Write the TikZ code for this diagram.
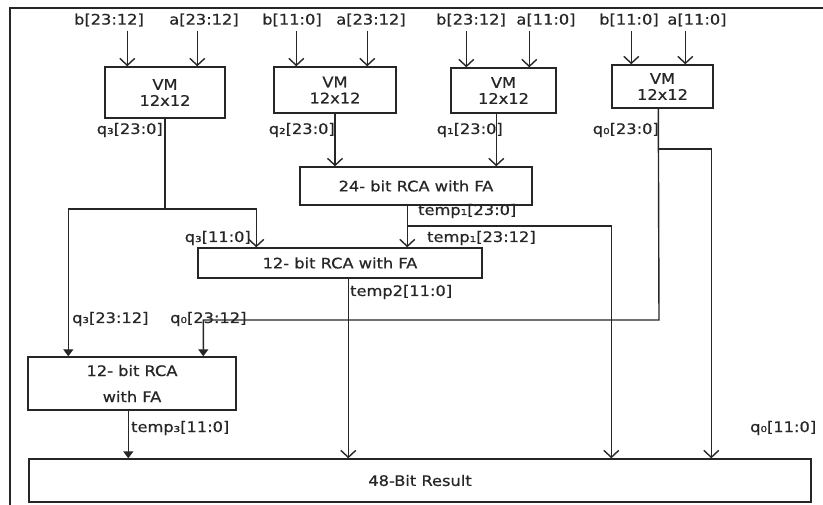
\documentclass[tikz,border=0pt]{standalone}
\usepackage{fontspec}
\setmainfont{DejaVu Sans}[FakeStretch=1.12, FakeBold=0.6]
\usetikzlibrary{arrows.meta}

\begin{document}
\begin{tikzpicture}[x=1pt, y=-1pt, color=black!85,
		font=\fontsize{14.5}{16}\selectfont,
		box/.style={draw, line width=1.4pt, align=center, inner sep=0pt},
		lbl/.style={inner sep=0pt},
		wire/.style={line width=1.4pt},
		openarr/.style={-{Straight Barb[length=7pt, width=15pt]}},
		solidarr/.style={-{Triangle[length=7pt, width=10pt]}}]
			%%%%% START %%%%%
			
			\useasboundingbox (0,0) rectangle (823,505);
			\draw[line width=1.8pt] (10,505) -- (10,8) -- (823,8);
			
			% the four 12x12 multipliers
			\node[box, minimum width=120pt, minimum height=51pt] (mulq3) at (165,92.5) {VM\\12x12};
			\node[box, minimum width=122pt, minimum height=46pt] (mulq2) at (335,90) {VM\\12x12};
			\node[box, minimum width=105pt, minimum height=45pt] (mulq1) at (503.5,90.5) {VM\\12x12};
			\node[box, minimum width=101pt, minimum height=43pt] (mulq0) at (662.5,86.5) {VM\\12x12};
			
			\foreach \x/\t [count=\i] in {109/b[23:12], 204/a[23:12], 292/b[11:0], 371/a[23:12],
					471/b[23:12], 546/a[11:0], 629/b[11:0], 697/a[11:0]}
				\node[lbl] (in\i) at (\x,20) {\t};
			
			\foreach \m/\dl/\dr/\h in {mulq3/23/93/35, mulq2/23/94/35, mulq1/16/79/36, mulq0/20/74/33} {
				\draw[wire, openarr] ([xshift=\dl pt, yshift=\h pt]\m.north west) -- ([xshift=\dl pt]\m.north west);
				\draw[wire, openarr] ([xshift=\dr pt, yshift=\h pt]\m.north west) -- ([xshift=\dr pt]\m.north west);
			}
			
			% adders
			\node[box, minimum width=232pt, minimum height=38pt] (rca24) at (416,186) {24- bit RCA with FA};
			\node[box, minimum width=284pt, minimum height=30pt] (rca12) at (340,263) {12- bit RCA with FA};
			\node[box, minimum width=208pt, minimum height=53pt] (rcaq3) at (132,383.5) {12- bit RCA\\[10pt]with FA};
			\node[box, minimum width=782pt, minimum height=43pt] (result) at (420,480.5) {48-Bit Result};
			
			\coordinate (q3split) at (165,209);
			\coordinate (q1out) at ([xshift=46pt]mulq1.south west);
			\coordinate (q0out) at ([xshift=47pt]mulq0.south west);
			\coordinate (q0split) at (659,149);
			\coordinate (q0bend) at (659,320);
			\coordinate (t1out) at ([xshift=108pt]rca24.south west);
			\coordinate (t1split) at (408,226);
			\coordinate (t2out) at ([xshift=151pt]rca12.south west);
			\coordinate (t3out) at ([xshift=101pt]rcaq3.south west);
			
			\draw[wire] (mulq3.south) -- (q3split);
			\draw[wire, solidarr] (q3split) -| ([xshift=41pt]rcaq3.north west);
			\draw[wire, openarr] (q3split) -| ([xshift=59pt]rca12.north west);
			\draw[wire, openarr] (mulq2.south) -- (mulq2.south |- rca24.north);
			\draw[wire, openarr] (q1out) -- (q1out |- rca24.north);
			\draw[wire, solidarr] (q0out) -- (q0bend) -| ([xshift=176pt]rcaq3.north west);
			\draw[wire, openarr] (q0split) -| ([xshift=683pt]result.north west);
			\draw[wire, openarr] (t1out) -- (t1out |- rca12.north);
			\draw[wire, openarr] (t1split) -| ([xshift=583pt]result.north west);
			\draw[wire, openarr] (t2out) -- (t2out |- result.north);
			\draw[wire, solidarr] (t3out) -- (t3out |- result.north);
			
			% bus labels
			\node[lbl, anchor=east] (lq3) at (163,130) {q₃[23:0]};
			\node[lbl, anchor=east] (lq2) at (335,130) {q₂[23:0]};
			\node[lbl, anchor=east] (lq1) at (503,130) {q₁[23:0]};
			\node[lbl, anchor=east] (lq0) at (659,130) {q₀[23:0]};
			\node[lbl, anchor=west] (lt1) at (418,211) {temp₁[23:0]};
			\node[lbl, anchor=west] (lt1h) at (427,238) {temp₁[23:12]};
			\node[lbl, anchor=east] (lq3l) at (251,238) {q₃[11:0]};
			\node[lbl, anchor=west] (lt2) at (350,292) {temp2[11:0]};
			\node[lbl, anchor=west] (lq3h) at (72,319) {q₃[23:12]};
			\node[lbl, anchor=west] (lq0h) at (170,319) {q₀[23:12]};
			\node[lbl, anchor=west] (lt3) at (131,428) {temp₃[11:0]};
			\node[lbl, anchor=west] (lq0l) at (750,428) {q₀[11:0]};
			
			%%%%% END %%%%%
\end{tikzpicture}
\end{document}
